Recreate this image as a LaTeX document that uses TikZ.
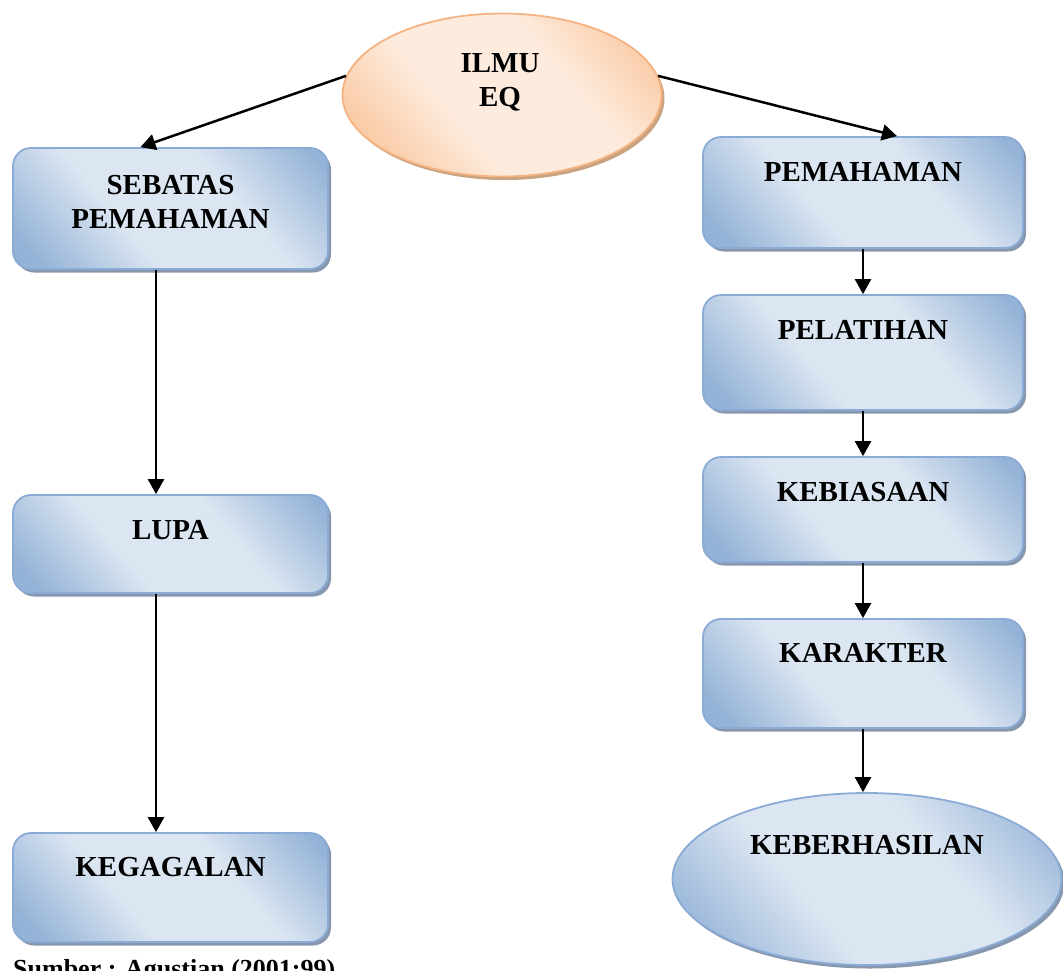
\documentclass[tikz,border=0pt]{standalone}
\usepackage{fontspec}
\setmainfont{Liberation Serif}
\usetikzlibrary{shapes.geometric,shadows,arrows.meta,positioning}
\definecolor{bluelight}{HTML}{DCE6F2}
\definecolor{bluedark}{HTML}{95B3D7}
\definecolor{blueline}{HTML}{8AABD5}
\definecolor{blueshadow}{HTML}{8797AE}
\definecolor{orangelight}{HTML}{FDEBDD}
\definecolor{orangedark}{HTML}{F9C49A}
\definecolor{orangeline}{HTML}{F5B383}
\definecolor{orangeshadow}{HTML}{C9A27F}
\pgfdeclarehorizontalshading{bluegrad}{100bp}{color(0bp)=(bluedark); color(20bp)=(bluedark); color(40bp)=(bluelight); color(62bp)=(bluelight); color(82bp)=(bluedark); color(100bp)=(bluedark)}
\pgfdeclarehorizontalshading{orangegrad}{100bp}{color(0bp)=(orangedark); color(20bp)=(orangedark); color(40bp)=(orangelight); color(62bp)=(orangelight); color(82bp)=(orangedark); color(100bp)=(orangedark)}

\begin{document}
\begin{tikzpicture}
[x=1pt,y=-1pt,>={Triangle[length=15pt,width=16pt]},
bluebox/.style = {draw=blueline, line width=1.8pt, rounded corners=18pt, shading=bluegrad, shading angle=40, inner sep=0pt,
  drop shadow={fill=blueshadow, opacity=1, shadow xshift=3pt, shadow yshift=-3.5pt}},
blueoval/.style = {ellipse, draw=blueline, line width=1.8pt, shading=bluegrad, shading angle=40, inner sep=0pt,
  drop shadow={fill=blueshadow, opacity=1, shadow xshift=3pt, shadow yshift=-3.5pt}},
orangeoval/.style = {ellipse, draw=orangeline, line width=1.8pt, shading=orangegrad, shading angle=40, inner sep=0pt,
  drop shadow={fill=orangeshadow, opacity=1, shadow xshift=3pt, shadow yshift=-3.5pt}},
title/.style = {font=\bfseries\fontsize{29}{34}\selectfont, align=center, inner sep=0pt, anchor=north},
arrow/.style = {->, line width=2.5pt},]
\useasboundingbox (0,0) rectangle (1063,970);

\node (ilmu) at (502,95)[orangeoval, minimum width=319, minimum height=163] {};
\node (sebatas) at (170.5,208.5)[bluebox, minimum width=315, minimum height=121] {};
\node (lupa) at (170.5,544)[bluebox, minimum width=315, minimum height=98] {};
\node (kegagalan) at (170.5,887.5)[bluebox, minimum width=315, minimum height=109] {};
\node (pemahaman) at (863,192.5)[bluebox, minimum width=320, minimum height=111] {};
\node (pelatihan) at (863,352.5)[bluebox, minimum width=320, minimum height=115] {};
\node (kebiasaan) at (863,509.5)[bluebox, minimum width=320, minimum height=105] {};
\node (karakter) at (863,673.5)[bluebox, minimum width=320, minimum height=109] {};
\node (keberhasilan) at (867,879)[blueoval, minimum width=389, minimum height=172] {};

\node (tilmu) at (500,53.5)[title] {ILMU\\EQ};
\node (tsebatas) at (170.5,175.5)[title] {SEBATAS\\PEMAHAMAN};
\node (tlupa) at (170.5,520.5)[title] {LUPA};
\node (tkegagalan) at (170.5,857.5)[title] {KEGAGALAN};
\node (tpemahaman) at (863,162.5)[title] {PEMAHAMAN};
\node (tpelatihan) at (863,320.5)[title] {PELATIHAN};
\node (tkebiasaan) at (863,482.5)[title] {KEBIASAAN};
\node (tkarakter) at (863,643.5)[title] {KARAKTER};
\node (tkeberhasilan) at (867,835.5)[title] {KEBERHASILAN};
\node (sumber) at (13,977)[font=\bfseries\fontsize{26}{30}\selectfont, inner sep=0pt, anchor=base west] {Sumber : Agustian (2001:99)};

\draw[arrow] (ilmu.173)--([xshift=-30pt]sebatas.north);
\draw[arrow] (ilmu.7)--([xshift=34pt]pemahaman.north);
\draw[arrow] ([xshift=-14.5pt]sebatas.south)--([xshift=-14.5pt]lupa.north);
\draw[arrow] ([xshift=-14.5pt]lupa.south)--([xshift=-14.5pt]kegagalan.north);
\draw[arrow] (pemahaman.south)--(pelatihan.north);
\draw[arrow] (pelatihan.south)--(kebiasaan.north);
\draw[arrow] (kebiasaan.south)--(karakter.north);
\draw[arrow] (karakter.south)--(karakter.south |- keberhasilan.north);

\end{tikzpicture}
\end{document}
